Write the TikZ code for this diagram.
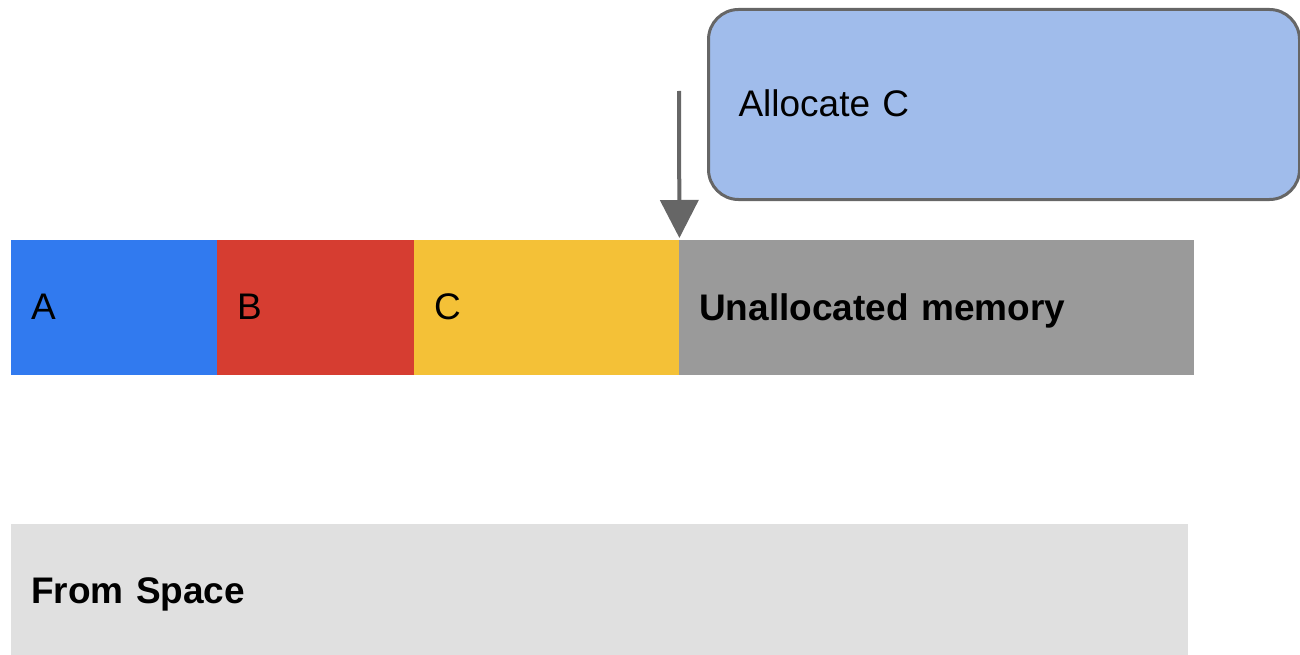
\documentclass[tikz,border=0pt]{standalone}
\usepackage{fontspec}
\setmainfont{Liberation Sans}
\usetikzlibrary{arrows.meta}
\definecolor{cA}{HTML}{317AEF}
\definecolor{cB}{HTML}{D63D31}
\definecolor{cC}{HTML}{F4C137}
\definecolor{cU}{HTML}{9A9A9A}
\definecolor{cF}{HTML}{E0E0E0}
\definecolor{cBox}{HTML}{A0BCEB}
\definecolor{cLine}{HTML}{666666}
\tikzset{
  blk/.style={rectangle, anchor=north west, inner xsep=20pt, inner ysep=0pt, minimum height=135pt, align=left, font=\fontsize{37}{40}\selectfont, text=black, text depth=2pt},
  callout/.style={rectangle, anchor=north west, rounded corners=30pt, draw=cLine, line width=3pt, fill=cBox, inner xsep=30pt, inner ysep=0pt, minimum height=190pt, text width=531pt, align=left, font=\fontsize{37}{40}\selectfont, text depth=2pt},
  arr/.style={draw=cLine, line width=4pt, -{Triangle[width=38pt,length=38pt]}}
}
\begin{document}
\begin{tikzpicture}[x=1pt,y=-1pt]
\useasboundingbox (0,0) rectangle (1300,655);
\clip (0,0) rectangle (1300,655);
\node[blk, fill=cA, text width=166pt] (A) at (11,240) {A};
\node[blk, fill=cB, text width=157pt] (B) at (217,240) {B};
\node[blk, fill=cC, text width=225pt] (C) at (414,240) {C};
\node[blk, fill=cU, text width=475pt, font=\fontsize{37}{40}\selectfont\bfseries] (U) at (679,240) {Unallocated memory};
\node[blk, fill=cF, text width=1137pt, minimum height=135pt, font=\fontsize{37}{40}\selectfont\bfseries] (F) at (11,524) {From Space};
\node[callout] (alloc) at (707,8) {Allocate C};
\coordinate (s) at (679,91);
\draw[arr] (s) -- ([yshift=2pt]C.north east);
\end{tikzpicture}
\end{document}
